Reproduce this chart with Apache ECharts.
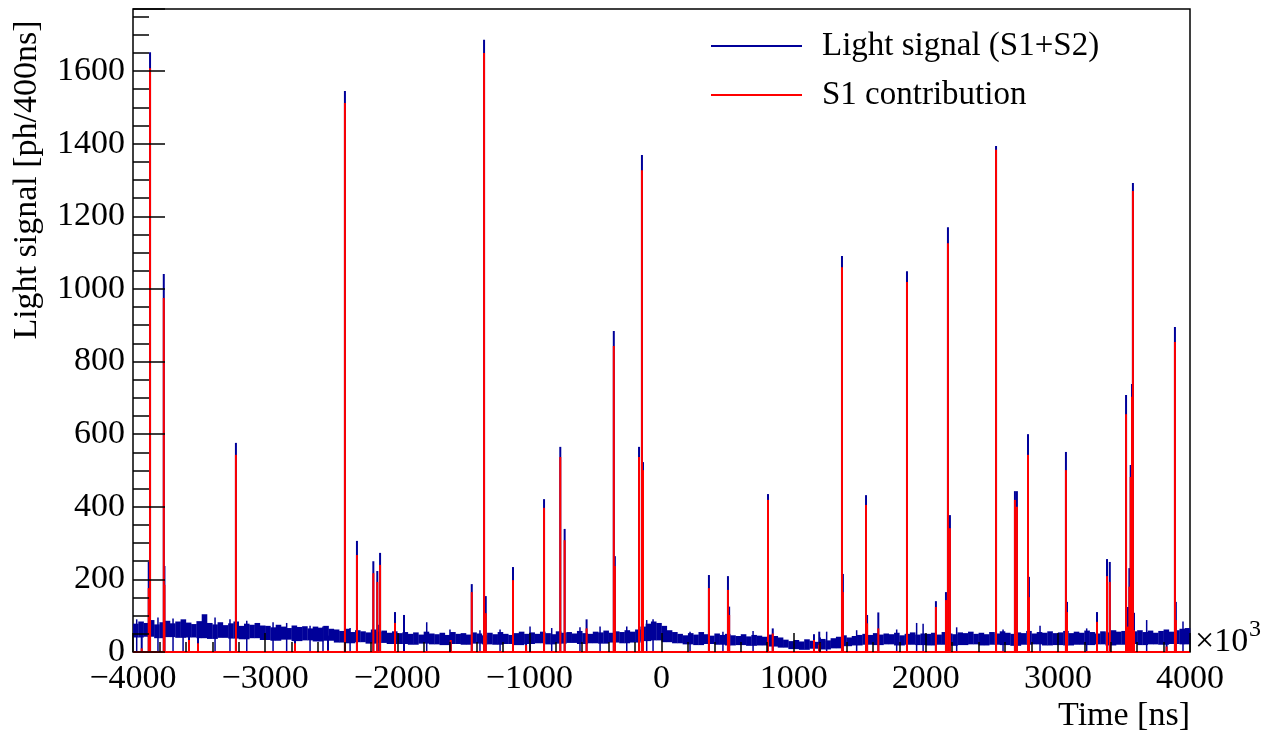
<!DOCTYPE html>
<html><head><meta charset="utf-8">
<script src="https://cdn.jsdelivr.net/npm/echarts@6.0.0/dist/echarts.min.js"></script>
<style>html,body{margin:0;padding:0;background:#fff}#c{width:1272px;height:733px}</style>
</head><body><div id="c"></div>
<script>
// ---------- data (time in units of 10^3 ns, signal in ph/400ns) ----------
const xTickLabels = [-4000, -3000, -2000, -1000, 0, 1000, 2000, 3000, 4000];
const yTickLabels = [0, 200, 400, 600, 800, 1000, 1200, 1400, 1600];

// Noise band of the total light signal: upper edge every 40 (x10^3 ns), lower edge every 80, starting at -4000
const bandTimeStart = -4000;
const bandTopStep = 40;
const bandLowStep = 80;
const bandTop = [
  78, 84, 80, 88, 76, 82, 86, 79, 84, 90, 81, 77, 85,
  104,
  80, 76, 82, 74, 79, 84, 72, 78, 75, 80, 73,
  72, 68, 75, 70, 66, 73, 69, 71, 65, 70, 67, 72, 64,
  62, 58, 64, 55, 60, 57, 54, 62, 56, 59, 53, 57,
  52, 55, 50, 54, 48, 56, 51, 49, 53, 47, 55, 50, 52, 48, 54, 51, 46, 53, 49, 55, 50, 47, 52, 56, 50,
  54, 50, 56, 52, 49, 57, 53, 55, 51, 58, 52, 50, 56, 54, 59, 53, 57, 55, 60, 56,
  62, 70, 78, 84, 80, 72, 60, 55,
  50, 46, 52, 48, 55, 49, 45, 51, 47, 50,
  46, 44, 49, 43, 47, 45, 42, 48, 44, 40,
  34, 30, 33, 29, 35, 31, 28, 36, 32, 38,
  42, 46, 40, 44, 47,
  50, 47, 52, 48, 51, 49, 53, 46, 50, 54, 48, 51,
  50, 53, 48, 55, 51, 49, 54, 52, 56, 50, 53, 49, 55, 51, 57, 53, 50, 54, 52, 58, 51, 55, 53, 57, 52,
  54, 58, 52, 56, 53, 59, 55, 51, 57, 54, 60, 56, 58, 62, 57, 60, 55, 59, 53, 58, 62, 56, 60, 64, 66
];
const bandLow = [
  40, 42, 38, 41, 39, 40,
  38, 36, 39, 37, 35, 38,
  33, 31, 34, 30, 32, 29, 31,
  26, 24, 27, 23, 25, 22,
  22, 20, 23, 21, 19, 22, 20, 23, 21, 20, 22, 19,
  22, 24, 21, 23, 25, 22, 24, 23, 26, 24,
  26, 30, 32, 27, 24,
  21, 19, 22, 20, 18,
  19, 17, 18, 15, 12,
  8, 6, 9, 7, 10,
  16, 18,
  20, 19, 21, 18, 20, 19,
  18, 20, 17, 19, 21, 18, 20, 19, 17, 20, 21, 18, 19,
  18, 20, 19, 21, 18, 20, 22, 19, 21, 20, 22, 21
];

// Small noise peaks of the total signal sticking out of the band
const noiseTime = [
  -3972, -3811, -3697, -3621, -3379, -3266, -3139, -2940, -2837, -2660,
  -2562, -2357, -2145, -1777, -1601, -1374, -1222, -995, -831, -617,
  -465, -263, -112, -64, 216, 465, 693, 1250, 1477, 1780,
  1931, 1980, 2234, 2585, 2865, 3218, 3672, 3947
];
const noisePeak = [
  90, 95, 92, 88, 95, 90, 86, 82, 80, 72,
  70, 66, 75, 82, 62, 60, 62, 70, 66, 68,
  70, 70, 88, 90, 56, 56, 58, 56, 60, 62,
  80, 78, 68, 62, 72, 65, 88, 84
];

// Individual pulses: time, total light (S1+S2), S1 contribution
const pulseTime = [
  -3934, -3881, -3871, -3767, -3762, -3576, -3508, -3221, -2774, -2524,
  -2396, -2305, -2181, -2151, -2130, -2017, -1949, -1595, -1436, -1343,
  -1330, -1124, -1025, -889, -766, -733, -567, -361, -353, -170,
  -148, -140, 359, 503, 512, 806, 842, 1154, 1194, 1199,
  1366, 1373, 1548, 1556, 1641, 1858, 2077, 2153, 2168, 2183,
  2532, 2675, 2690, 2774, 2781, 3061, 3069, 3296, 3372, 3393,
  3516, 3522, 3526, 3530, 3535, 3541, 3545, 3551, 3556, 3561,
  3568, 3572, 3576, 3823, 3886, 3893
];
const pulseTotal = [
  50, 248, 1652, 1041, 237, 60, 60, 576, 50, 45,
  1545, 306, 250, 223, 273, 110, 102, 50, 187, 1686,
  154, 234, 45, 421, 565, 339, 90, 884, 264, 565,
  1369, 523, 212, 209, 125, 435, 65, 49, 56, 40,
  1091, 215, 432, 102, 109, 1049, 140, 165, 1170, 377,
  1394, 443, 443, 600, 207, 551, 138, 110, 256, 248,
  708, 70, 60, 124, 70, 231, 80, 515, 70, 738,
  1292, 60, 108, 50, 895, 138
];
const pulseS1 = [
  10, 176, 1608, 975, 185, 33, 24, 543, 24, 5,
  1512, 267, 217, 193, 240, 80, 0, 33, 165, 1650,
  107, 198, 19, 397, 537, 308, 65, 843, 237, 537,
  1327, 501, 176, 171, 102, 419, 51, 33, 20, 25,
  1060, 165, 405, 79, 65, 1019, 124, 143, 1126, 341,
  1383, 419, 400, 543, 151, 501, 110, 83, 209, 193,
  655, 60, 45, 70, 55, 180, 65, 482, 50, 703,
  1270, 40, 60, 15, 854, 88
];

// ---------- chart ----------
const BLUE = '#000099', RED = '#ff0000';
const FONT = '"Liberation Serif", "DejaVu Serif", serif';
const Y_MAX = 1771;

const bandData = bandTop.map((hi, i) => {
  const t0 = bandTimeStart + i * bandTopStep;
  const lo = bandLow[Math.floor((t0 - bandTimeStart) / bandLowStep)];
  return [t0, t0 + bandTopStep, lo, hi];
});
const noiseData = noiseTime.map((t, i) => [t, noisePeak[i]]);
const totalData = pulseTime.map((t, i) => [t, pulseTotal[i]]);
const s1Data = pulseTime.map((t, i) => [t, pulseS1[i]]);

function bandItem(params, api) {
  const a = api.coord([api.value(0), api.value(3)]);
  const b = api.coord([api.value(1), api.value(2)]);
  return { type: 'rect', shape: { x: a[0], y: a[1], width: b[0] - a[0] + 0.3, height: b[1] - a[1] },
           style: { fill: BLUE } };
}
function spikeItem(color, width) {
  return function (params, api) {
    const v = api.value(1);
    if (v <= 0) return null;
    const p0 = api.coord([api.value(0), 0]);
    const p1 = api.coord([api.value(0), v]);
    return { type: 'line', shape: { x1: p0[0], y1: p0[1], x2: p1[0], y2: p1[1] },
             style: { stroke: color, lineWidth: width } };
  };
}

const chart = echarts.init(document.getElementById('c'), null, { renderer: 'canvas' });
chart.setOption({
  animation: false,
  backgroundColor: '#fff',
  grid: { left: 133, right: 82, top: 9, bottom: 81, show: true, borderColor: '#000', borderWidth: 1.5,
          backgroundColor: 'transparent', outerBoundsMode: 'none', containLabel: false },
  legend: {
    orient: 'vertical', left: 711, top: 26, itemWidth: 91, itemHeight: 2, itemGap: 9,
    icon: 'rect', padding: 0,
    textStyle: { fontFamily: FONT, fontSize: 33, color: '#000', lineHeight: 40, padding: [0, 0, 0, 15] },
    data: [
      { name: 'Light signal (S1+S2)', itemStyle: { color: BLUE } },
      { name: 'S1 contribution', itemStyle: { color: RED } }
    ]
  },
  xAxis: {
    type: 'value', min: xTickLabels[0], max: xTickLabels[xTickLabels.length - 1], interval: 1000, z: 10,
    axisLine: { show: false, onZero: false },
    splitLine: { show: false },
    axisTick: { show: true, inside: true, length: 19, lineStyle: { color: '#000', width: 1.5 } },
    minorTick: { show: true, splitNumber: 5, length: 10, lineStyle: { color: '#000', width: 1.5 } },
    minorSplitLine: { show: false },
    axisLabel: { fontFamily: FONT, fontSize: 34, color: '#000', margin: 10,
      formatter: v => xTickLabels.includes(v) ? (v < 0 ? '\u2212' + Math.abs(v) : String(v)) : '' }
  },
  yAxis: [
    {
      type: 'value', min: 0, max: Y_MAX, interval: 200, z: 10, position: 'left', offset: 0,
      axisLine: { show: false, onZero: false }, splitLine: { show: false },
      axisTick: { show: true, inside: true, length: 32, lineStyle: { color: '#000', width: 1.5 } },
      axisLabel: { fontFamily: FONT, fontSize: 34, color: '#000', margin: 8,
        formatter: v => yTickLabels.includes(v) ? String(v) : '' }
    },
    {
      type: 'value', min: 0, max: Y_MAX, interval: 50, z: 10, position: 'left', offset: 0,
      axisLine: { show: false, onZero: false }, splitLine: { show: false }, axisLabel: { show: false },
      axisTick: { show: true, inside: true, length: 16, lineStyle: { color: '#000', width: 1.5 } }
    }
  ],
  series: [
    { name: 'Light signal (S1+S2)', type: 'custom', renderItem: bandItem, data: bandData,
      encode: { x: [0, 1], y: [2, 3] }, itemStyle: { color: BLUE }, z: 2, silent: true },
    { name: 'Light signal (S1+S2)', type: 'custom', renderItem: spikeItem(BLUE, 1.5), data: noiseData,
      encode: { x: 0, y: 1 }, itemStyle: { color: BLUE }, z: 2, silent: true },
    { name: 'Light signal (S1+S2)', type: 'custom', renderItem: spikeItem(BLUE, 2), data: totalData,
      encode: { x: 0, y: 1 }, itemStyle: { color: BLUE }, z: 3, silent: true },
    { name: 'S1 contribution', type: 'custom', renderItem: spikeItem(RED, 2), data: s1Data,
      encode: { x: 0, y: 1 }, itemStyle: { color: RED }, z: 4, silent: true,
      markLine: { silent: true, symbol: 'none', label: { show: false },
        lineStyle: { color: RED, width: 2, type: 'solid' }, data: [{ yAxis: 0 }] } }
  ],
  graphic: [
    { type: 'text', x: 27, y: 180, rotation: Math.PI / 2,
      style: { text: 'Light signal [ph/400ns]', fontFamily: FONT, fontSize: 34, fill: '#000',
               align: 'center', verticalAlign: 'middle' } },
    { type: 'text', x: 1190, y: 716,
      style: { text: 'Time [ns]', fontFamily: FONT, fontSize: 34, fill: '#000',
               align: 'right', verticalAlign: 'middle' } },
    { type: 'text', x: 1195, y: 642,
      style: { text: '\u00d710', fontFamily: FONT, fontSize: 34, fill: '#000',
               align: 'left', verticalAlign: 'middle' } },
    { type: 'text', x: 1249, y: 630,
      style: { text: '3', fontFamily: FONT, fontSize: 24, fill: '#000',
               align: 'left', verticalAlign: 'middle' } }
  ]
});
</script></body></html>
